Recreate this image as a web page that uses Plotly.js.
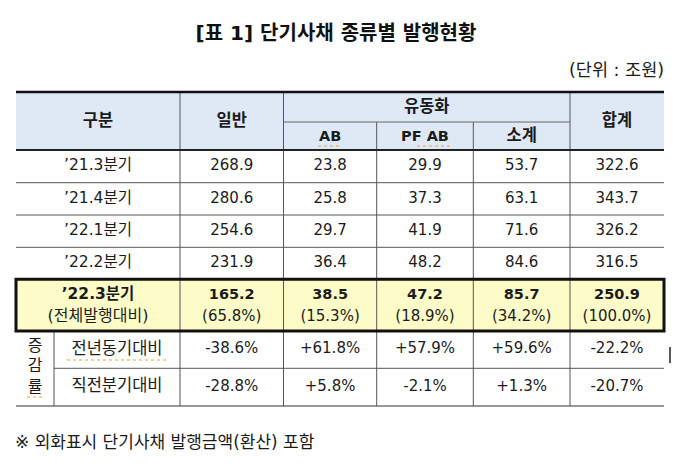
<!DOCTYPE html>
<html>
<head>
<meta charset="utf-8">
<script src="https://cdn.plot.ly/plotly-3.0.1.min.js"></script>
<style>html,body{margin:0;padding:0;background:#fff;}#chart{width:679px;height:476px;}</style>
</head>
<body>
<div id="chart"></div>
<script>
// ---- data ----
const titleText = "[표 1] 단기사채 종류별 발행현황";
const unitText = "(단위 : 조원)";
const footnoteText = "※ 외화표시 단기사채 발행금액(환산) 포함";
const headerTop = ["구분", "일반", "유동화", "합계"];
const headerSub = ["AB", "PF AB", "소계"];
const quarters = ["’21.3분기", "’21.4분기", "’22.1분기", "’22.2분기"];
const general = [268.9, 280.6, 254.6, 231.9];
const ab = [23.8, 25.8, 29.7, 36.4];
const pfab = [29.9, 37.3, 41.9, 48.2];
const subtotal = [53.7, 63.1, 71.6, 84.6];
const total = [322.6, 343.7, 326.2, 316.5];
const latestLabel = "’22.3분기";
const latestSubLabel = "(전체발행대비)";
const latestValues = [165.2, 38.5, 47.2, 85.7, 250.9];
const latestShares = [65.8, 15.3, 18.9, 34.2, 100.0];
const rateGroupLabel = "증<br>감<br>률";
const rateLabels = ["전년동기대비", "직전분기대비"];
const yoyRates = [-38.6, 61.8, 57.9, 59.6, -22.2];
const qoqRates = [-28.8, 5.8, -2.1, 1.3, -20.7];

// ---- layout geometry ----
const FONT = "'DejaVu Sans', 'Noto Sans CJK KR', sans-serif";
const TXT = "#1b1b1b";
const L = 16, R = 664;
const colX = [16, 180, 283.5, 376.7, 473.3, 570, 664];
const colC = [];
for (let i = 0; i < 6; i++) colC.push((colX[i] + colX[i + 1]) / 2);
const yTop = 92, yMid = 122, yHead = 150;
const rowY = [150, 182.7, 215, 247.3, 279.3];
const yHiTop = 279.3, yHiBot = 331, yRateMid = 368.3, yBot = 406;
const rateSplitX = 54;

const fmt = v => v.toFixed(1);
const fmtRate = v => (v > 0 ? "+" : "") + v.toFixed(1) + "%";

function textTrace(x, y, t, size, bold, family) {
  return {
    type: "scatter", mode: "text", x: x, y: y, text: t,
    textposition: "middle center", hoverinfo: "skip", showlegend: false,
    textfont: { family: family || FONT, size: size, color: TXT, weight: bold ? 700 : 400 }
  };
}

// header text (Korean)
const hx = [colC[0], colC[1], (colX[2] + colX[5]) / 2, colC[5], colC[4]];
const hy = [122, 122, 107.5, 122, 137];
const ht = [headerTop[0], headerTop[1], headerTop[2], headerTop[3], headerSub[2]];
// header sub (Latin)
const lx = [colC[2], colC[3]], ly = [137, 137], lt = [headerSub[0], headerSub[1]];

const qx = [], qy = [], qt = [];
const nx = [], ny = [], nt = [];
const series = [general, ab, pfab, subtotal, total];
quarters.forEach((q, r) => {
  const yc = (rowY[r] + rowY[r + 1]) / 2;
  qx.push(colC[0]); qy.push(yc); qt.push(q);
  series.forEach((s, c) => { nx.push(colC[c + 1]); ny.push(yc); nt.push(fmt(s[r])); });
});
const hiB = { x: [], y: [], t: [] };
const hiR = { x: [], y: [], t: [] };
latestValues.forEach((v, c) => { hiB.x.push(colC[c + 1]); hiB.y.push(295.5); hiB.t.push(fmt(v)); });
latestShares.forEach((v, c) => { hiR.x.push(colC[c + 1]); hiR.y.push(317); hiR.t.push("(" + v.toFixed(1) + "%)"); });
const rateY = [(yHiBot + yRateMid) / 2, (yRateMid + yBot) / 2];
const rx = [], ry = [], rt = [];
[yoyRates, qoqRates].forEach((arr, r) => {
  rx.push((rateSplitX + colX[1]) / 2); ry.push(rateY[r]); rt.push(rateLabels[r]);
  arr.forEach((v, c) => { nx.push(colC[c + 1]); ny.push(rateY[r]); nt.push(fmtRate(v)); });
});

const traces = [
  textTrace(hx, hy, ht, 16.5, true),
  textTrace(lx, ly, lt, 14.5, true),
  textTrace(qx, qy, qt, 15.5, false),
  textTrace(nx, ny, nt, 15, false),
  textTrace([colC[0]], [295.5], [latestLabel], 15.5, true),
  textTrace([colC[0]], [317], [latestSubLabel], 16, false),
  textTrace(hiB.x, hiB.y, hiB.t, 14.5, true),
  textTrace(hiR.x, hiR.y, hiR.t, 15, false),
  textTrace(rx, ry, rt, 16.5, false),
  textTrace([(L + rateSplitX) / 2], [(yHiBot + yBot) / 2 - 1], [rateGroupLabel], 16, false)
];

const shapes = [];
const line = (x0, y0, x1, y1, w, c, dash) => shapes.push({ type: "line", xref: "x", yref: "y", x0, y0, x1, y1, line: { width: w, color: c, dash: dash || "solid" }, layer: "above" });
shapes.push({ type: "rect", xref: "x", yref: "y", x0: L, x1: R, y0: yTop, y1: yHead, fillcolor: "#dfe9f6", line: { width: 0 }, layer: "below" });
shapes.push({ type: "rect", xref: "x", yref: "y", x0: L, x1: R, y0: yHiTop, y1: yHiBot, fillcolor: "#fdfbc8", line: { width: 0 }, layer: "below" });
line(colX[1], yTop, colX[1], yBot, 1, "#555");
line(colX[2], yTop, colX[2], yBot, 1, "#555");
line(colX[5], yTop, colX[5], yBot, 1, "#555");
line(colX[3], yMid, colX[3], yBot, 1, "#555");
line(colX[4], yMid, colX[4], yBot, 1, "#555");
line(rateSplitX, yHiBot, rateSplitX, yBot, 1, "#555");
line(L, yTop, R, yTop, 2.5, "#111");
line(colX[2], yMid, colX[5], yMid, 1, "#666");
line(L, yHead, R, yHead, 2, "#222");
for (let r = 1; r < 4; r++) line(L, rowY[r], R, rowY[r], 1, "#555");
line(rateSplitX, yRateMid, R, yRateMid, 1, "#555");
line(L, yBot, R, yBot, 1.2, "#333");
shapes.push({ type: "rect", xref: "x", yref: "y", x0: L, x1: R, y0: yHiTop, y1: yHiBot, line: { width: 3, color: "#111" }, layer: "above" });
const wavy = "#e8a33c";
line(colC[2] - 12, 146, colC[2] + 12, 146, 1, wavy, "dot");
line(colC[3] - 8, 146, colC[3] + 25, 146, 1, wavy, "dot");
line(67, 360, 168, 360, 1, wavy, "dot");
line(27, 397, 45, 397, 1, wavy, "dot");
line(670, 347, 670, 363, 1.5, "#222");

const layout = {
  width: 679, height: 476,
  margin: { l: 0, r: 0, t: 0, b: 0 },
  paper_bgcolor: "#fff", plot_bgcolor: "#fff",
  xaxis: { range: [0, 679], visible: false, fixedrange: true },
  yaxis: { range: [476, 0], visible: false, fixedrange: true },
  title: { text: titleText, x: 336 / 679, xanchor: "center", y: 1 - 33 / 476, yanchor: "middle", yref: "paper",
           font: { family: FONT, size: 20, color: "#111", weight: 700 } },
  shapes: shapes,
  annotations: [
    { xref: "x", yref: "y", x: 666, y: 70, text: unitText, showarrow: false, xanchor: "right", yanchor: "middle",
      font: { family: FONT, size: 17.5, color: TXT } },
    { xref: "x", yref: "y", x: 13, y: 442, text: footnoteText, showarrow: false, xanchor: "left", yanchor: "middle",
      font: { family: FONT, size: 17, color: TXT } }
  ]
};
Plotly.newPlot("chart", traces, layout, { staticPlot: true, displayModeBar: false });
</script>
</body>
</html>
